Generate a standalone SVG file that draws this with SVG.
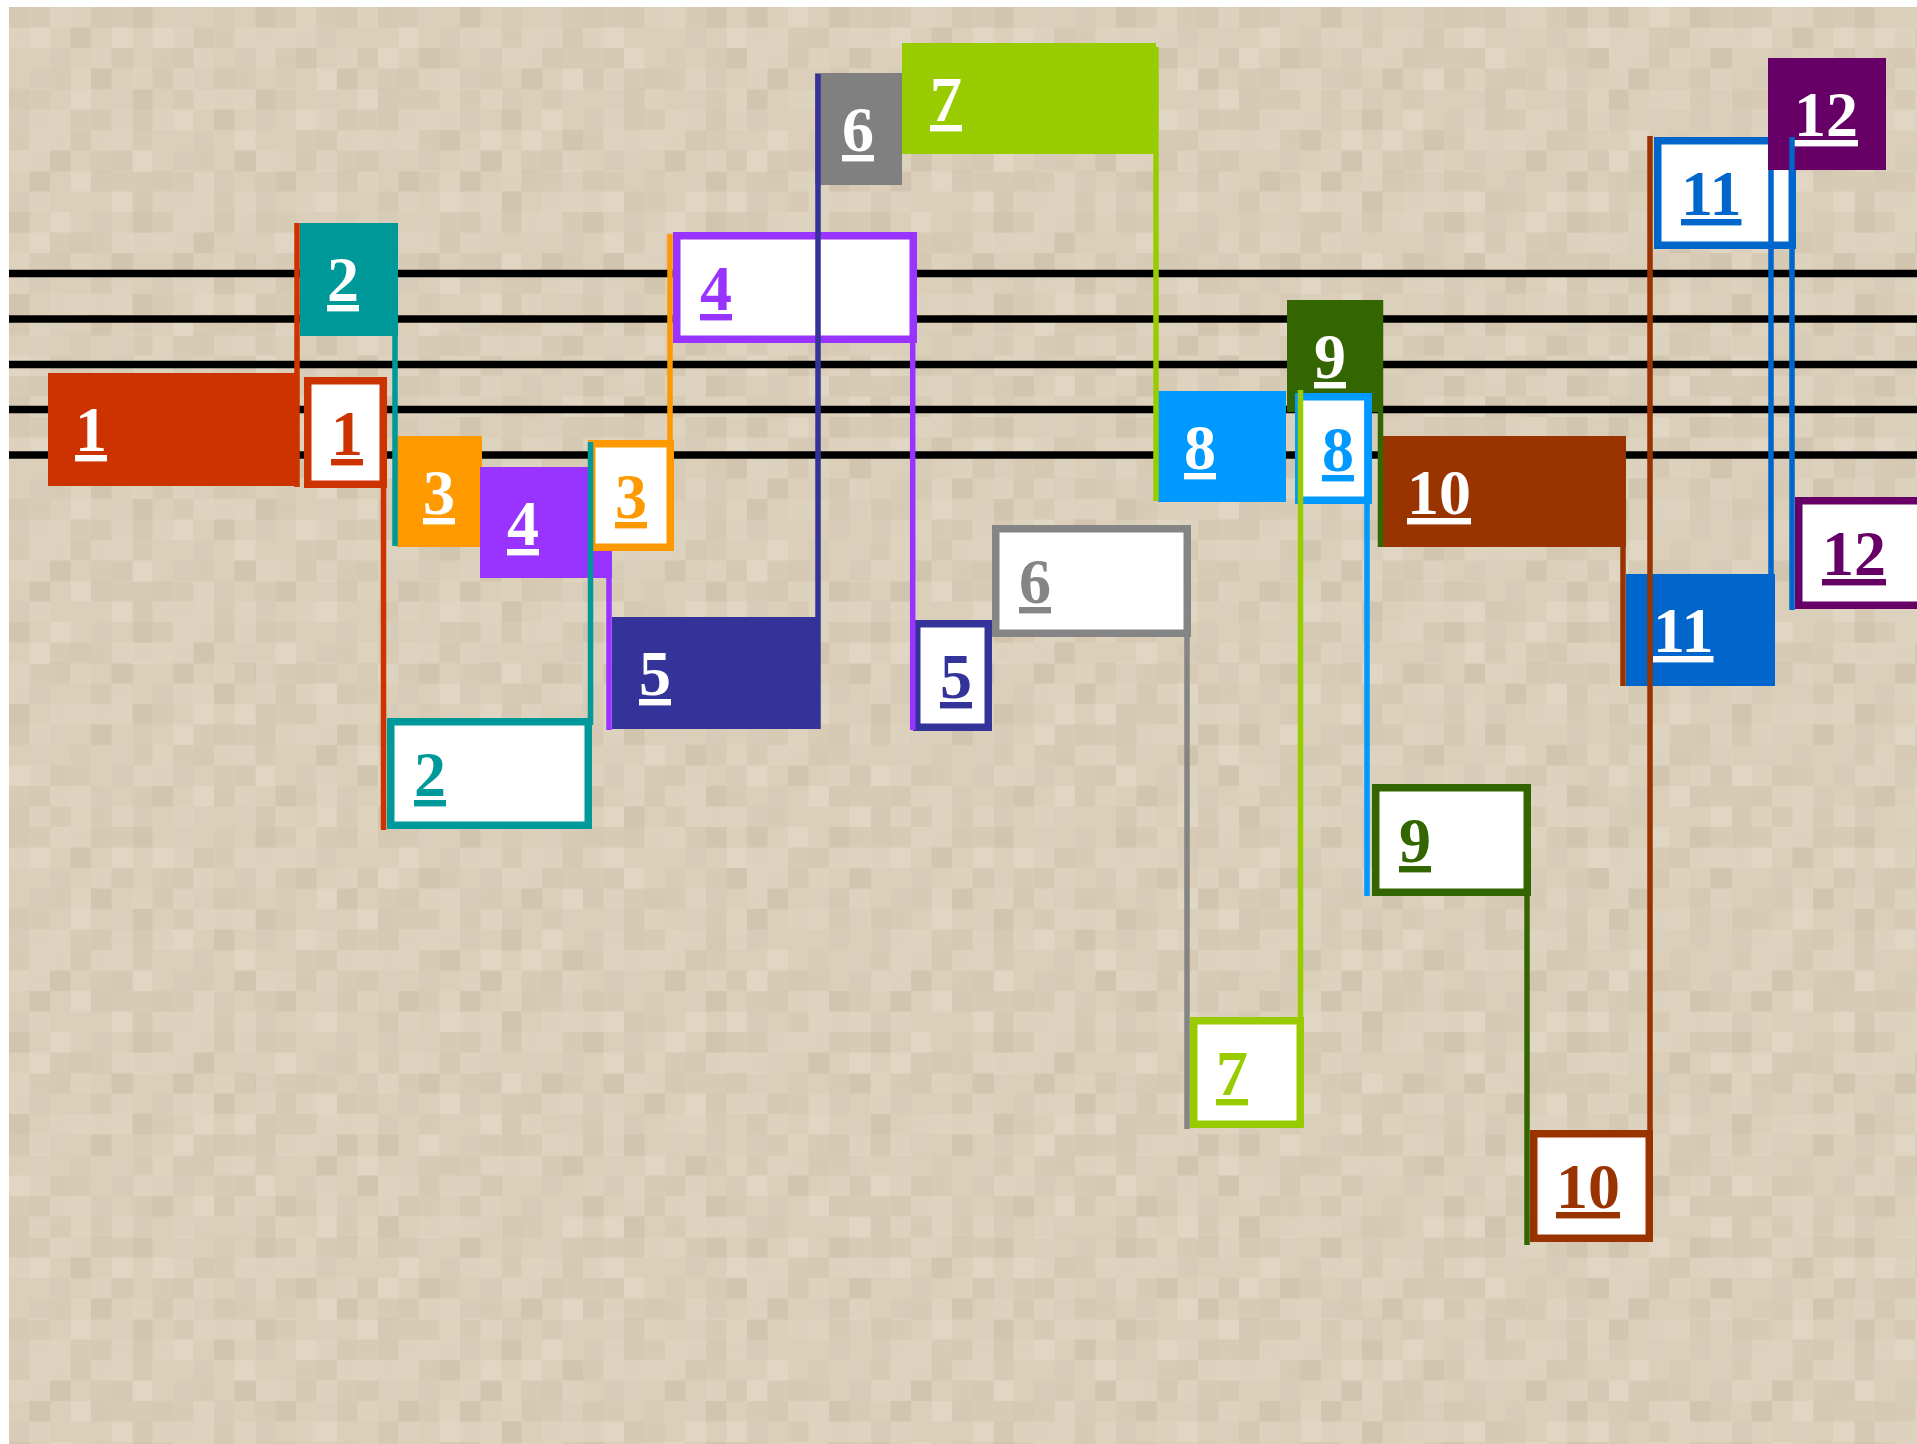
<svg xmlns="http://www.w3.org/2000/svg" width="1917" height="1444" viewBox="0 0 1917 1444">
  <style>
    .lbl { font-family: "Liberation Serif", "Times New Roman", serif; font-size: 64px; font-weight: bold; text-decoration: underline; }
    .w { fill: #ffffff; }
    .staff { stroke: #000000; stroke-width: 7.5; }
    .box { fill: #ffffff; stroke-width: 7.5; }
    .con { stroke-width: 5.5; fill: none; }
  </style>
  <defs>
    <pattern id="texA" patternUnits="userSpaceOnUse" x="9" y="7" width="123" height="102.5">
      <g fill="#000000" fill-opacity="0.028">
        <rect x="0" y="0" width="20.5" height="20.5"/>
        <rect x="82" y="0" width="20.5" height="20.5"/>
        <rect x="61.5" y="20.5" width="20.5" height="20.5"/>
        <rect x="41" y="41" width="20.5" height="20.5"/>
        <rect x="102.5" y="41" width="20.5" height="20.5"/>
        <rect x="20.5" y="61.5" width="20.5" height="20.5"/>
        <rect x="82" y="61.5" width="20.5" height="20.5"/>
        <rect x="0" y="82" width="20.5" height="20.5"/>
      </g>
      <g fill="#ffffff" fill-opacity="0.09">
        <rect x="41" y="0" width="20.5" height="20.5"/>
        <rect x="20.5" y="20.5" width="20.5" height="20.5"/>
        <rect x="102.5" y="20.5" width="20.5" height="20.5"/>
        <rect x="0" y="41" width="20.5" height="20.5"/>
        <rect x="61.5" y="61.5" width="20.5" height="20.5"/>
        <rect x="61.5" y="82" width="20.5" height="20.5"/>
        <rect x="102.5" y="82" width="20.5" height="20.5"/>
      </g>
    </pattern>
    <pattern id="texB" patternUnits="userSpaceOnUse" x="9" y="7" width="143.5" height="82">
      <g fill="#000000" fill-opacity="0.02">
        <rect x="20.5" y="0" width="20.5" height="20.5"/>
        <rect x="102.5" y="0" width="41" height="20.5"/>
        <rect x="61.5" y="20.5" width="20.5" height="20.5"/>
        <rect x="0" y="41" width="20.5" height="20.5"/>
        <rect x="123" y="41" width="20.5" height="20.5"/>
        <rect x="41" y="61.5" width="20.5" height="20.5"/>
        <rect x="82" y="61.5" width="20.5" height="20.5"/>
      </g>
      <g fill="#ffffff" fill-opacity="0.06">
        <rect x="61.5" y="0" width="20.5" height="20.5"/>
        <rect x="0" y="20.5" width="41" height="20.5"/>
        <rect x="102.5" y="20.5" width="20.5" height="20.5"/>
        <rect x="41" y="41" width="20.5" height="20.5"/>
        <rect x="82" y="41" width="20.5" height="20.5"/>
        <rect x="123" y="61.5" width="20.5" height="20.5"/>
        <rect x="20.5" y="61.5" width="20.5" height="20.5"/>
      </g>
    </pattern>
  </defs>

  <rect x="0" y="0" width="1917" height="1444" fill="#ffffff"/>
  <g id="background">
    <rect x="9" y="7" width="1908" height="1437" fill="#dbcfb9"/>
    <rect x="9" y="7" width="1908" height="1437" fill="url(#texA)"/>
    <rect x="9" y="7" width="1908" height="1437" fill="url(#texB)"/>
  </g>

  <g id="staff">
    <line class="staff" x1="9" y1="273.5" x2="1917" y2="273.5"/>
    <line class="staff" x1="9" y1="319" x2="1917" y2="319"/>
    <line class="staff" x1="9" y1="364.5" x2="1917" y2="364.5"/>
    <line class="staff" x1="9" y1="409.5" x2="1917" y2="409.5"/>
    <line class="staff" x1="9" y1="455" x2="1917" y2="455"/>
  </g>

  <g id="nodes">
    <g id="n1a"><rect x="48" y="373" width="250" height="113" fill="#cc3300"/><text class="lbl w" x="75" y="451">1</text></g>
    <g id="n1b"><rect class="box" x="307.75" y="380.75" width="75.5" height="103.5" stroke="#cc3300"/><text class="lbl" x="331" y="455" fill="#cc3300">1</text></g>
    <g id="n2a"><rect x="300" y="223" width="98" height="113" fill="#009999"/><text class="lbl w" x="327" y="301">2</text></g>
    <g id="n2b"><rect class="box" x="390.75" y="721.75" width="197.5" height="103.5" stroke="#009999"/><text class="lbl" x="414" y="796" fill="#009999">2</text></g>
    <g id="n3a"><rect x="397" y="436" width="85" height="111" fill="#ff9900"/><text class="lbl w" x="423" y="514">3</text></g>
    <g id="n4a"><rect x="480" y="467" width="132" height="111" fill="#9933ff"/><text class="lbl w" x="507" y="545">4</text></g>
    <g id="n3b"><rect class="box" x="591.75" y="443.75" width="78.5" height="103.5" stroke="#ff9900"/><text class="lbl" x="615" y="518" fill="#ff9900">3</text></g>
    <g id="n4b"><rect class="box" x="676.75" y="235.75" width="236.5" height="103.5" stroke="#9933ff"/><text class="lbl" x="700" y="310" fill="#9933ff">4</text></g>
    <g id="n5a"><rect x="612" y="617" width="208" height="112" fill="#333399"/><text class="lbl w" x="639" y="695">5</text></g>
    <g id="n5b"><rect class="box" x="916.75" y="623.75" width="71.5" height="103.5" stroke="#333399"/><text class="lbl" x="940" y="698" fill="#333399">5</text></g>
    <g id="n6a"><rect x="815" y="73" width="87" height="112" fill="#808080"/><text class="lbl w" x="842" y="151">6</text></g>
    <g id="n6b"><rect class="box" x="995.75" y="528.75" width="191.5" height="104.5" stroke="#858585"/><text class="lbl" x="1019" y="603" fill="#858585">6</text></g>
    <g id="n7a"><rect x="902" y="43" width="254" height="111" fill="#99cc00"/><text class="lbl w" x="930" y="121">7</text></g>
    <g id="n7b"><rect class="box" x="1193.75" y="1020.75" width="106.5" height="103.5" stroke="#99cc00"/><text class="lbl" x="1216" y="1095" fill="#99cc00">7</text></g>
    <g id="n8a"><rect x="1158" y="391" width="128" height="111" fill="#0099ff"/><text class="lbl w" x="1184" y="469">8</text></g>
    <g id="n9a"><rect x="1287" y="300" width="96" height="112" fill="#336600"/><text class="lbl w" x="1314" y="378">9</text></g>
    <g id="n8b"><rect class="box" x="1298.75" y="396.75" width="69.5" height="103.5" stroke="#0099ff"/><text class="lbl" x="1322" y="471" fill="#0099ff">8</text></g>
    <g id="n9b"><rect class="box" x="1375.75" y="787.75" width="151.5" height="104.5" stroke="#336600"/><text class="lbl" x="1399" y="862" fill="#336600">9</text></g>
    <g id="n10a"><rect x="1380" y="436" width="246" height="111" fill="#993300"/><text class="lbl w" x="1407" y="514">10</text></g>
    <g id="n10b"><rect class="box" x="1533.75" y="1133.75" width="115.5" height="104.5" stroke="#993300"/><text class="lbl" x="1556" y="1208" fill="#993300">10</text></g>
    <g id="n11b"><rect class="box" x="1657.75" y="140.75" width="134.5" height="104.5" stroke="#0066cc"/><text class="lbl" x="1681" y="215" fill="#0066cc">11</text></g>
    <g id="n11a"><rect x="1626" y="574" width="149" height="112" fill="#0066cc"/><text class="lbl w" x="1653" y="652">11</text></g>
    <g id="n12a"><rect x="1768" y="58" width="118" height="112" fill="#660066"/><text class="lbl w" x="1794" y="136">12</text></g>
    <g id="n12b"><rect class="box" x="1798.75" y="500.75" width="192.5" height="104.5" stroke="#660066"/><text class="lbl" x="1822" y="575" fill="#660066">12</text></g>
  </g>

  <g id="connectors" class="con">
    <line x1="297" y1="223" x2="297" y2="487" stroke="#cc3300"/>
    <line x1="383.5" y1="488" x2="383.5" y2="830" stroke="#cc3300"/>
    <line x1="395" y1="223" x2="395" y2="546" stroke="#009999"/>
    <line x1="590.5" y1="442" x2="590.5" y2="725" stroke="#009999"/>
    <line x1="670" y1="234" x2="670" y2="551" stroke="#ff9900"/>
    <line x1="609" y1="551" x2="609" y2="730" stroke="#9933ff"/>
    <line x1="912.7" y1="343" x2="912.7" y2="730" stroke="#9933ff"/>
    <line x1="818" y1="74" x2="818" y2="729" stroke="#333399"/>
    <line x1="1156" y1="47" x2="1156" y2="501" stroke="#99cc00"/>
    <line x1="1187" y1="525" x2="1187" y2="1129" stroke="#858585"/>
    <line x1="1300.5" y1="390" x2="1300.5" y2="1128" stroke="#99cc00"/>
    <line x1="1367" y1="393" x2="1367" y2="896" stroke="#0099ff"/>
    <line x1="1380.5" y1="300" x2="1380.5" y2="547" stroke="#336600"/>
    <line x1="1527" y1="784" x2="1527" y2="1245" stroke="#336600"/>
    <line x1="1623" y1="436" x2="1623" y2="686" stroke="#993300"/>
    <line x1="1650" y1="136" x2="1650" y2="1242" stroke="#993300"/>
    <line x1="1771" y1="170" x2="1771" y2="686" stroke="#0066cc"/>
    <line x1="1792" y1="137" x2="1792" y2="610" stroke="#0066cc"/>
  </g>
</svg>
